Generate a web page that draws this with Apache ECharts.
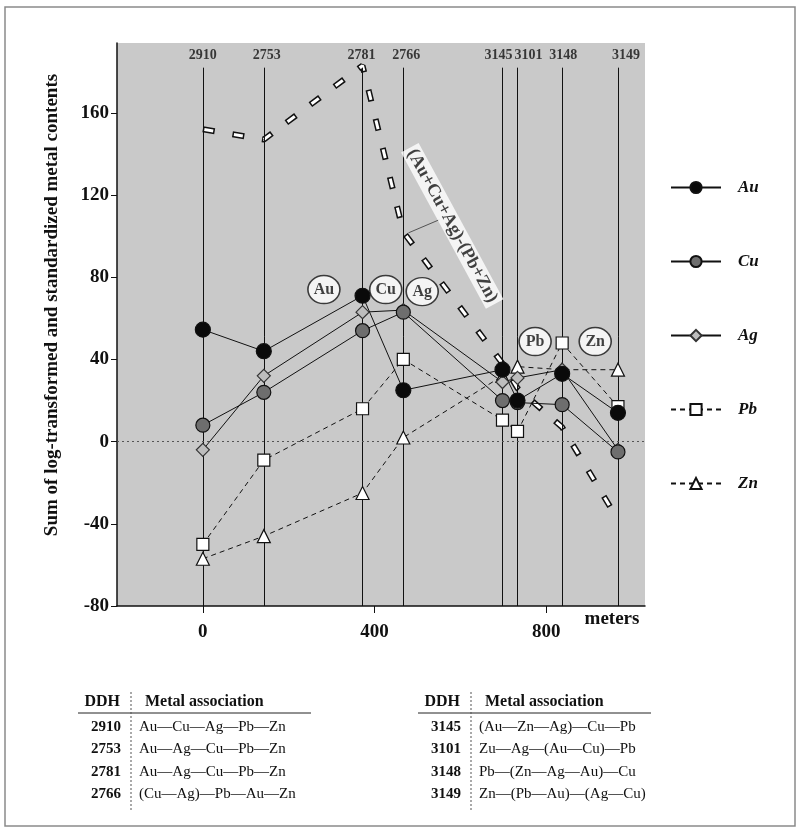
<!DOCTYPE html>
<html><head><meta charset="utf-8">
<script src="https://cdn.jsdelivr.net/npm/echarts@6/dist/echarts.min.js"></script>
<style>html,body{margin:0;padding:0;background:#fff}#c{width:800px;height:832px}</style>
</head><body><div id="c"></div>
<script>
// ---- data ----
const drills   = ['2910','2753','2781','2766','3145','3101','3148','3149'];
const drillPos = [0, 142, 372, 467, 698, 733, 837, 967];        // meters
const au   = [54.5, 44, 71, 25, 35, 20, 33, 14];
const cu   = [8, 24, 54, 63, 20, 19, 18, -5];
const ag   = [-4, 32, 63, 64, 29, 31, 35, -4];
const pb   = [-50, -9, 16, 40, 10.5, 5, 48, 17];
const zn   = [-57, -46, -25, 2, 32, 36.5, 35, 35];
const diff = [152, 147, 183, 102, 38, 26, 7, -38];
const xTicks = [0, 400, 800];
const yTicks = [-80, -40, 0, 40, 80, 120, 160];
const bubbleNames = ['Au','Cu','Ag','Pb','Zn'];
const bubblePos = [[282, 74], [426, 74], [511, 73], [774, 48.7], [914, 48.7]];
const diffLabel = '(Au+Cu+Ag)-(Pb+Zn)';
const yTitle = 'Sum of log-transformed and standardized metal contents';
const xUnit = 'meters';
const leftDDH = ['2910','2753','2781','2766'];
const leftAssoc = ['Au—Cu—Ag—Pb—Zn','Au—Ag—Cu—Pb—Zn','Au—Ag—Cu—Pb—Zn','(Cu—Ag)—Pb—Au—Zn'];
const rightDDH = ['3145','3101','3148','3149'];
const rightAssoc = ['(Au—Zn—Ag)—Cu—Pb','Zu—Ag—(Au—Cu)—Pb','Pb—(Zn—Ag—Au)—Cu','Zn—(Pb—Au)—(Ag—Cu)'];

const SERIF = "'Liberation Serif','DejaVu Serif',serif";
const chart = echarts.init(document.getElementById('c'), null, {renderer:'canvas'});
const pts = arr => arr.map((v,i)=>[drillPos[i], v]);
const labelShift = [0, 3, -1, 3, -4, 11, 1, 8];   // px, style only

function metal(name, arr, symbol, size, fill, dashed, border){
  return {
    name, type:'line', data: pts(arr), symbol, symbolSize:size, z:5,
    lineStyle:{color:'#111', width:1, type: dashed ? [5,4] : 'solid'},
    itemStyle:{color:fill, borderColor:border||'#111', borderWidth:1.2, opacity:1},
    emphasis:{disabled:true}, animation:false
  };
}

const g = [];
g.push({type:'rect', shape:{x:5, y:7, width:790, height:819}, style:{fill:null, stroke:'#8a8a8a', lineWidth:1.5}, silent:true});
function table(x0, ddh, assoc){
  const sepX = x0 + 47;
  g.push({type:'text', style:{x:x0 + 36, y:702, text:'DDH', font:'bold 16px '+SERIF, fill:'#111', align:'right', verticalAlign:'middle'}});
  g.push({type:'text', style:{x:sepX + 14, y:702, text:'Metal association', font:'bold 16px '+SERIF, fill:'#111', align:'left', verticalAlign:'middle'}});
  g.push({type:'line', shape:{x1:x0-6, y1:713, x2:sepX+180, y2:713}, style:{stroke:'#222', lineWidth:1}});
  g.push({type:'line', shape:{x1:sepX, y1:692, x2:sepX, y2:812}, style:{stroke:'#555', lineWidth:1, lineDash:[2,2]}});
  ddh.forEach((d,i)=>{
    const y = 727 + i*22.5;
    g.push({type:'text', style:{x:sepX - 10, y, text:d, font:'bold 15px '+SERIF, fill:'#111', align:'right', verticalAlign:'middle'}});
    g.push({type:'text', style:{x:sepX + 8, y, text:assoc[i], font:'15px '+SERIF, fill:'#111', align:'left', verticalAlign:'middle'}});
  });
}
table(84, leftDDH, leftAssoc);
table(424, rightDDH, rightAssoc);
g.push({type:'text', style:{x:612, y:619, text:xUnit, font:'bold 19px '+SERIF, fill:'#111', align:'center', verticalAlign:'middle'}});
g.push({type:'text', x:52, y:305, rotation:Math.PI/2, style:{x:0, y:0, text:yTitle, font:'bold 19px '+SERIF, fill:'#111', align:'center', verticalAlign:'middle'}});

const option = {
  backgroundColor:'#fff',
  animation:false,
  grid:{left:117, right:155, top:43, bottom:226, show:true, backgroundColor:'#c9c9c9', borderWidth:0},
  xAxis:{type:'value', min:-200, max:1030,
    axisLine:{show:true, onZero:false, lineStyle:{color:'#111', width:1.5}},
    axisTick:{show:true, customValues:xTicks, length:7, inside:false, lineStyle:{color:'#111'}},
    axisLabel:{customValues:xTicks, color:'#111', fontFamily:SERIF, fontWeight:'bold', fontSize:19, margin:17},
    splitLine:{show:false}},
  yAxis:{type:'value', min:-80, max:194,
    axisLine:{show:true, onZero:false, lineStyle:{color:'#111', width:1.5}},
    axisTick:{show:true, customValues:yTicks, length:6, lineStyle:{color:'#111'}},
    axisLabel:{customValues:yTicks, color:'#111', fontFamily:SERIF, fontWeight:'bold', fontSize:19, margin:8},
    splitLine:{show:false}},
  legend:{orient:'vertical', left:665, top:174, itemGap:57, itemWidth:50, itemHeight:14,
    data:['Au','Cu','Ag','Pb','Zn'],
    textStyle:{color:'#111', fontFamily:SERIF, fontStyle:'italic', fontWeight:'bold', fontSize:17, padding:[0,0,0,12]}},
  graphic:g,
  series:[
    {name:'drills', type:'line', data:[], silent:true, z:1,
      markLine:{silent:true, symbol:'none', animation:false, label:{show:false},
        lineStyle:{color:'#111', width:1, type:'solid'},
        data: drillPos.map(x=>[{coord:[x,-80]},{coord:[x,182]}]).concat([[{coord:[-200,0],lineStyle:{type:[2,3],color:'#555'}},{coord:[1030,0]}]])}},
    {name:'drillLabels', type:'scatter', symbolSize:0, silent:true, z:6,
      data: drillPos.map((x,i)=>({value:[x,188], name:drills[i], label:{offset:[labelShift[i],0]}})),
      label:{show:true, position:'inside', formatter:p=>p.name, color:'#111', fontFamily:SERIF, fontWeight:'bold', fontSize:14}},
    {name:'diffOuter', type:'line', data:pts(diff), symbol:'none', z:3, silent:true,
      lineStyle:{color:'#111', width:6, type:[12,18], cap:'butt'}},
    {name:'diffInner', type:'line', data:pts(diff), symbol:'none', z:3, silent:true,
      lineStyle:{color:'#fff', width:3, type:[9,21], dashOffset:-1.5, cap:'butt'}},
    {name:'leader', type:'line', data:[[479,101.6],[551,108]], symbol:'none', z:3, silent:true,
      lineStyle:{color:'#333', width:0.8}},
    metal('Pb', pb, 'rect', 12, '#fff', true),
    metal('Zn', zn, 'triangle', 13, '#fff', true),
    metal('Ag', ag, 'diamond', 13, '#bdbdbd', false, '#333'),
    metal('Cu', cu, 'circle', 14, '#6e6e6e', false),
    metal('Au', au, 'circle', 15, '#0a0a0a', false),
    {name:'bubbles', type:'scatter', z:7, silent:true,
      data: bubblePos.map((p,i)=>({value:p, name:bubbleNames[i]})),
      symbol:'circle', symbolSize:[32,28],
      itemStyle:{color:'#fff', borderColor:'#111', borderWidth:1.5},
      label:{show:true, position:'inside', formatter:p=>p.name, color:'#111', fontFamily:SERIF, fontWeight:'bold', fontSize:16}},
    {name:'diffLabel', type:'scatter', z:8, silent:true, symbolSize:0,
      data:[{value:[581,105], name:diffLabel}],
      label:{show:true, position:'inside', rotate:-61.5, formatter:p=>p.name, color:'#111', backgroundColor:'#fff',
        padding:[1,3], fontFamily:SERIF, fontWeight:'bold', fontSize:18}}
  ]
};
chart.setOption(option);
</script></body></html>
